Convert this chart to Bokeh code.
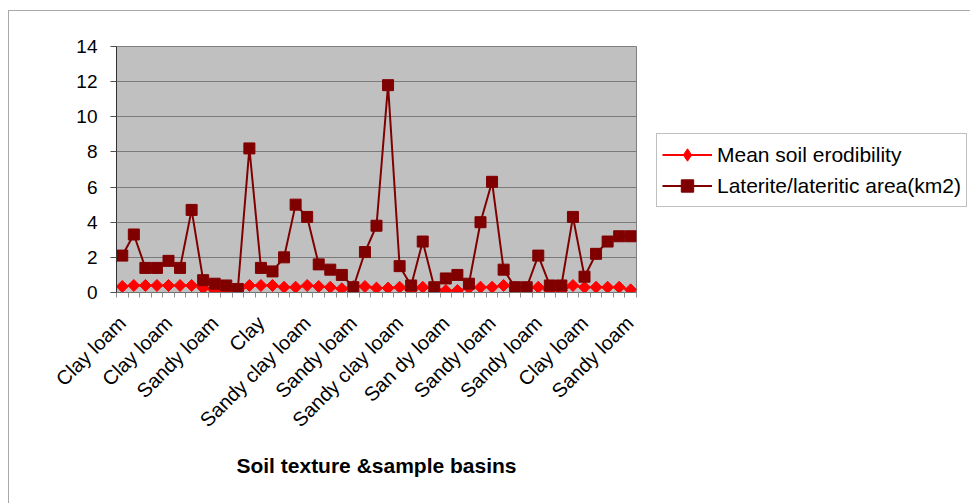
import math
from bokeh.plotting import figure
from bokeh.layouts import row
from bokeh.models import Legend, LegendItem, FixedTicker, Range1d, ColumnDataSource
from bokeh.embed import file_html
from bokeh.resources import INLINE

# ---- data ----
basin = list(range(1, 46))
erodibility = [0.34, 0.40, 0.40, 0.40, 0.40, 0.40, 0.40, 0.25, 0.11, 0.02, 0.0,
               0.40, 0.40, 0.40, 0.30, 0.30, 0.40, 0.34, 0.30, 0.21, 0.34, 0.34, 0.25,
               0.25, 0.30, 0.11, 0.30, 0.25, 0.11, 0.11, 0.25, 0.30, 0.30, 0.40, 0.30,
               0.25, 0.30, 0.11, 0.11, 0.40, 0.30, 0.30, 0.30, 0.30, 0.15]
laterite = [2.1, 3.3, 1.4, 1.4, 1.8, 1.4, 4.7, 0.7, 0.5, 0.4,
            0.2, 8.2, 1.4, 1.2, 2.0, 5.0, 4.3, 1.6, 1.3, 1.0,
            0.3, 2.3, 3.8, 11.8, 1.5, 0.4, 2.9, 0.3, 0.8, 1.0,
            0.5, 4.0, 6.3, 1.3, 0.3, 0.3, 2.1, 0.4, 0.4, 4.3,
            0.9, 2.2, 2.9, 3.2, 3.2]
tick_labels = ["Clay loam", "Clay loam", "Sandy loam", "Clay", "Sandy clay loam",
               "Sandy loam", "Sandy clay loam", "San dy loam", "Sandy loam",
               "Sandy loam", "Clay loam", "Sandy loam"]
tick_positions = basin[::4]
y_ticks = [0, 2, 4, 6, 8, 10, 12, 14]
series_names = ["Mean soil erodibility", "Laterite/lateritic area(km2)"]

FONT = "Liberation Sans"
RED = "#ff0000"
MAROON = "#800000"

src = ColumnDataSource(dict(x=basin, ero=erodibility, lat=laterite))

# ---------------- main chart ----------------
p = figure(width=637, height=503, output_backend="svg", toolbar_location=None,
           x_range=Range1d(0.5, len(basin) + 0.5), y_range=Range1d(0, 14),
           min_border_left=116, min_border_right=1, min_border_top=46,
           min_border_bottom=211)
p.background_fill_color = "#c0c0c0"
p.border_fill_alpha = 0
p.outline_line_color = "#808080"
p.outline_line_width = 1

p.xgrid.grid_line_color = None
p.ygrid.grid_line_color = "#7a7a7a"
p.ygrid.grid_line_width = 1.2
p.ygrid.ticker = FixedTicker(ticks=y_ticks)

p.yaxis.ticker = FixedTicker(ticks=y_ticks)
p.yaxis.axis_line_color = "#303030"
p.yaxis.major_tick_line_color = "#505050"
p.yaxis.major_tick_out = 6
p.yaxis.major_tick_in = 0
p.yaxis.minor_tick_line_color = None
p.yaxis.major_label_standoff = 13
p.yaxis.major_label_text_font = FONT
p.yaxis.major_label_text_font_size = "19px"
p.yaxis.major_label_text_color = "black"

p.xaxis.ticker = FixedTicker(ticks=tick_positions,
                             minor_ticks=[b - 0.5 for b in basin] + [basin[-1] + 0.5])
p.xaxis.major_label_overrides = {t: l for t, l in zip(tick_positions, tick_labels)}
p.xaxis.major_label_orientation = math.pi / 4
p.xaxis.major_tick_out = 0
p.xaxis.major_tick_in = 0
p.xaxis.minor_tick_out = 5
p.xaxis.minor_tick_in = 0
p.xaxis.minor_tick_line_color = "#909090"
p.xaxis.axis_line_color = "#707070"
p.xaxis.major_label_standoff = 22
p.xaxis.major_label_text_font = FONT
p.xaxis.major_label_text_font_size = "20px"
p.xaxis.major_label_text_color = "black"
p.xaxis.axis_label = "Soil texture &sample basins"
p.xaxis.axis_label_text_font = FONT
p.xaxis.axis_label_text_font_style = "bold"
p.xaxis.axis_label_text_font_size = "21px"
p.xaxis.axis_label_text_color = "black"
p.xaxis.axis_label_standoff = 12

p.line("x", "ero", source=src, line_color=RED, line_width=2)
p.scatter("x", "ero", source=src, marker="square", angle=math.pi / 4, size=8.5,
          fill_color=RED, line_color=RED)
p.line("x", "lat", source=src, line_color=MAROON, line_width=2)
p.scatter("x", "lat", source=src, marker="square", size=11,
          fill_color=MAROON, line_color=MAROON)

# ---------------- legend panel (same data, viewed off-range so only the legend shows) ----------------
pl = figure(width=333, height=503, output_backend="svg", toolbar_location=None,
            x_range=Range1d(1000, 1001), y_range=Range1d(1000, 1001),
            min_border=0, x_axis_location=None, y_axis_location=None)
pl.grid.grid_line_color = None
pl.outline_line_color = None
pl.background_fill_alpha = 0
pl.border_fill_alpha = 0
a1 = pl.line("x", "ero", source=src, line_color=RED, line_width=2)
b1 = pl.scatter("x", "ero", source=src, marker="diamond", size=15,
                fill_color=RED, line_color=RED)
a2 = pl.line("x", "lat", source=src, line_color=MAROON, line_width=2)
b2 = pl.scatter("x", "lat", source=src, marker="square", size=10,
                fill_color=MAROON, line_color=MAROON)

legend = Legend(items=[LegendItem(label=series_names[0], renderers=[a1, b1]),
                       LegendItem(label=series_names[1], renderers=[a2, b2])],
                location=(19, 85), orientation="vertical",
                padding=5, spacing=0, margin=0,
                glyph_width=50, glyph_height=31, label_height=31, label_standoff=5,
                label_text_font=FONT, label_text_font_size="21px",
                label_text_color="black",
                border_line_color="#808080", border_line_width=1,
                background_fill_color="white", background_fill_alpha=1)
pl.add_layout(legend, "center")

layout = row(p, pl)
# outer chart-area border (top and left edges)
layout.styles = {"background-color": "white",
                 "box-shadow": "inset 8px 10px 0 0 white, inset 9px 11px 0 0 #a8a8a8"}

open("out.html", "w").write(file_html(layout, INLINE))
